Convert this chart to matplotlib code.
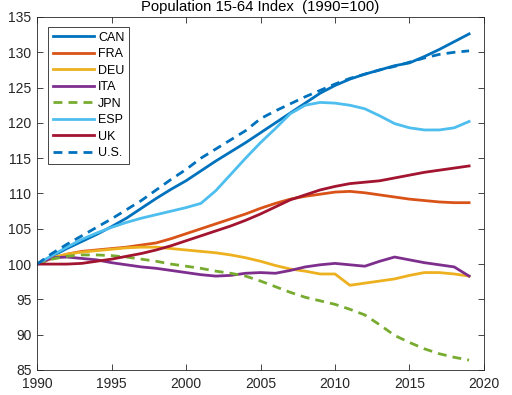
import numpy as np
import matplotlib
matplotlib.use('Agg')
import matplotlib.pyplot as plt

plt.rcParams['font.family'] = ['Liberation Sans', 'DejaVu Sans']

years = np.arange(1990, 2020)

can = [100, 101.1, 102.2, 103.2, 104.2, 105.3, 106.5, 107.9, 109.3, 110.6,
       111.8, 113.2, 114.6, 115.9, 117.2, 118.6, 120.0, 121.4, 122.8, 124.2,
       125.3, 126.2, 126.9, 127.5, 128.1, 128.5, 129.4, 130.4, 131.5, 132.6]
fra = [100, 100.8, 101.4, 101.8, 102.0, 102.2, 102.4, 102.7, 103.0, 103.6,
       104.3, 105.0, 105.7, 106.4, 107.1, 107.9, 108.6, 109.2, 109.6, 109.9,
       110.2, 110.3, 110.1, 109.8, 109.5, 109.2, 109.0, 108.8, 108.7, 108.7]
deu = [100, 100.9, 101.4, 101.7, 101.9, 102.1, 102.3, 102.4, 102.4, 102.2,
       102.0, 101.8, 101.6, 101.3, 100.9, 100.4, 99.8, 99.3, 99.0, 98.6,
       98.6, 97.0, 97.3, 97.6, 97.9, 98.4, 98.8, 98.8, 98.6, 98.3]
ita = [100, 100.9, 101.0, 100.8, 100.6, 100.2, 99.9, 99.6, 99.4, 99.1,
       98.8, 98.5, 98.3, 98.4, 98.7, 98.8, 98.7, 99.1, 99.6, 99.9,
       100.1, 99.9, 99.7, 100.4, 101.0, 100.6, 100.2, 99.9, 99.6, 98.3]
jpn = [100, 100.7, 101.1, 101.3, 101.3, 101.2, 101.0, 100.7, 100.4, 100.0,
       99.7, 99.4, 99.0, 98.7, 98.3, 97.6, 96.8, 96.0, 95.3, 94.8,
       94.3, 93.6, 92.8, 91.4, 89.9, 88.9, 88.0, 87.3, 86.8, 86.4]
esp = [100, 101.2, 102.4, 103.5, 104.4, 105.2, 105.9, 106.5, 107.0, 107.5,
       108.0, 108.6, 110.4, 112.7, 115.0, 117.2, 119.2, 121.3, 122.5, 122.9,
       122.8, 122.5, 122.0, 121.0, 119.9, 119.3, 119.0, 119.0, 119.3, 120.2]
uk = [100, 100.0, 100.0, 100.1, 100.4, 100.7, 101.1, 101.5, 102.0, 102.6,
      103.3, 104.0, 104.7, 105.4, 106.2, 107.1, 108.1, 109.1, 109.8, 110.5,
      111.0, 111.4, 111.6, 111.8, 112.2, 112.6, 113.0, 113.3, 113.6, 113.9]
us = [100, 101.5, 102.8, 104.0, 105.2, 106.4, 107.7, 109.0, 110.5, 112.0,
      113.4, 115.0, 116.3, 117.6, 118.9, 120.6, 121.7, 122.7, 123.7, 124.6,
      125.5, 126.3, 126.9, 127.5, 128.0, 128.6, 129.2, 129.7, 130.0, 130.2]

labels = ['CAN', 'FRA', 'DEU', 'ITA', 'JPN', 'ESP', 'UK', 'U.S.']
series = [can, fra, deu, ita, jpn, esp, uk, us]
colors = ['#0072BD', '#D95319', '#EDB120', '#7E2F8E', '#77AC30', '#4DBEEE', '#A2142F', '#0072BD']
styles = ['-', '-', '-', '-', '--', '-', '-', '--']

fig = plt.figure(figsize=(5.12, 3.95), dpi=100)
ax = fig.add_axes([0.0723, 0.0633, 0.873, 0.8937])

for y, lab, c, ls in zip(series, labels, colors, styles):
    line, = ax.plot(years, y, color=c, linestyle=ls, linewidth=2, label=lab)
    if ls == '--':
        line.set_dashes((3.2, 2.2))

ax.set_xlim(1990, 2020)
ax.set_ylim(85, 135)
ax.set_xticks(np.arange(1990, 2021, 5))
ax.set_yticks(np.arange(85, 136, 5))
ax.tick_params(direction='in', top=True, right=True, labelsize=10, length=4,
               width=0.6, color='#262626', labelcolor='#262626')
ax.tick_params(axis='x', pad=5)
ax.tick_params(axis='y', pad=4)
for s in ax.spines.values():
    s.set_linewidth(0.6)
    s.set_color('#262626')

ax.set_title('Population 15-64 Index  (1990=100)', fontsize=10.7, pad=4.3, color='black')

leg = ax.legend(loc='upper left', fontsize=9, handlelength=3.3, handletextpad=0.3,
                labelspacing=0.36, borderpad=0.4, borderaxespad=0, fancybox=False,
                framealpha=1, edgecolor='#262626', bbox_to_anchor=(0.0246, 0.972))
leg.get_frame().set_linewidth(0.6)

fig.savefig('out.png', dpi=100)
